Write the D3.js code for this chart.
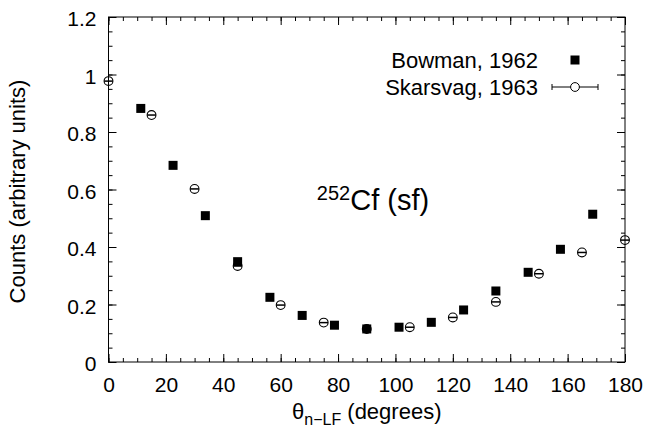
<!DOCTYPE html>
<html><head><meta charset="utf-8">
<script src="https://cdn.jsdelivr.net/npm/d3@7"></script>
<style>
body{margin:0;background:#fff;}
text{font-family:"Liberation Sans",Arial,sans-serif;fill:#000;}
.domain{display:none;}
</style></head>
<body><svg id="c" width="649" height="430"></svg>
<script>
// Data
const bowmanAngles = [11.25, 22.5, 33.75, 45, 56.25, 67.5, 78.75, 90, 101.25, 112.5, 123.75, 135, 146.25, 157.5, 168.75];
const bowmanCounts = [0.882, 0.684, 0.509, 0.349, 0.225, 0.162, 0.128, 0.115, 0.121, 0.138, 0.181, 0.247, 0.312, 0.392, 0.514];
const skarsvagAngles = [0, 15, 30, 45, 60, 75, 90, 105, 120, 135, 150, 165, 180];
const skarsvagCounts = [0.977, 0.859, 0.602, 0.334, 0.198, 0.137, 0.115, 0.121, 0.155, 0.209, 0.307, 0.381, 0.424];
const skarsvagErr = [1.5, 1.5, 1.5, 1.5, 1.5, 1.5, 1.5, 1.5, 1.5, 1.5, 1.5, 1.5, 1.5];
const xTicks = [0, 20, 40, 60, 80, 100, 120, 140, 160, 180];
const yTicks = [0, 0.2, 0.4, 0.6, 0.8, 1.0, 1.2];
const yTickLabels = ["0", "0.2", "0.4", "0.6", "0.8", "1", "1.2"];
const legendLabels = ["Bowman, 1962", "Skarsvag, 1963"];

const svg = d3.select("#c");
const L = 108.5, R = 625, T = 17, B = 362;
const x = d3.scaleLinear().domain([0, 180]).range([L, R]);
const y = d3.scaleLinear().domain([0, 1.2]).range([B, T]);

const xMinor = d3.range(0, 180.01, 5);
const yMinor = d3.range(0, 1.2001, 0.05);

function styleAxis(g){ g.selectAll("line").attr("stroke","#000").attr("stroke-width",1); g.select(".domain").remove(); }

// minor ticks
svg.append("g").attr("transform",`translate(0,${B})`).call(d3.axisBottom(x).tickValues(xMinor).tickSize(-4).tickFormat("")).call(styleAxis);
svg.append("g").attr("transform",`translate(0,${T})`).call(d3.axisTop(x).tickValues(xMinor).tickSize(-4).tickFormat("")).call(styleAxis);
svg.append("g").attr("transform",`translate(${L},0)`).call(d3.axisLeft(y).tickValues(yMinor).tickSize(-4).tickFormat("")).call(styleAxis);
svg.append("g").attr("transform",`translate(${R},0)`).call(d3.axisRight(y).tickValues(yMinor).tickSize(-4).tickFormat("")).call(styleAxis);

// major ticks
svg.append("g").attr("transform",`translate(0,${B})`)
  .call(d3.axisBottom(x).tickValues(xTicks).tickSize(-8).tickPadding(15).tickFormat(d3.format("d")))
  .call(styleAxis).selectAll("text").attr("font-size","21px").attr("font-family","Liberation Sans, Arial, sans-serif");
svg.append("g").attr("transform",`translate(0,${T})`).call(d3.axisTop(x).tickValues(xTicks).tickSize(-8).tickFormat("")).call(styleAxis);
svg.append("g").attr("transform",`translate(${L},0)`)
  .call(d3.axisLeft(y).tickValues(yTicks).tickSize(-8).tickPadding(12).tickFormat((d,i)=>yTickLabels[i]))
  .call(styleAxis).selectAll("text").attr("font-size","21px").attr("font-family","Liberation Sans, Arial, sans-serif").attr("dy","0.42em");
svg.append("g").attr("transform",`translate(${R},0)`).call(d3.axisRight(y).tickValues(yTicks).tickSize(-8).tickFormat("")).call(styleAxis);

// frame
svg.append("rect").attr("x",L).attr("y",T).attr("width",R-L).attr("height",B-T)
  .attr("fill","none").attr("stroke","#000").attr("stroke-width",1);

// Skarsvag error bars & circles
const sk = skarsvagAngles.map((a,i)=>({a, c:skarsvagCounts[i], e:skarsvagErr[i]}));
svg.append("g").selectAll("line").data(sk).join("line")
  .attr("x1",d=>x(d.a-d.e)).attr("x2",d=>x(d.a+d.e))
  .attr("y1",d=>y(d.c)).attr("y2",d=>y(d.c)).attr("stroke","#000").attr("stroke-width",1.5);
svg.append("g").selectAll("circle").data(sk).join("circle")
  .attr("cx",d=>x(d.a)).attr("cy",d=>y(d.c)).attr("r",4.4)
  .attr("fill","none").attr("stroke","#000").attr("stroke-width",1.1);

// Bowman squares
const bw = bowmanAngles.map((a,i)=>({a, c:bowmanCounts[i]}));
const S = 9;
svg.append("g").selectAll("rect").data(bw).join("rect")
  .attr("x",d=>x(d.a)-S/2).attr("y",d=>y(d.c)-S/2).attr("width",S).attr("height",S).attr("fill","#000");

// Legend
const lg = svg.append("g");
lg.append("text").attr("x",538).attr("y",60).attr("dy","0.35em").attr("text-anchor","end").attr("font-size","22px").text(legendLabels[0]);
lg.append("text").attr("x",538).attr("y",87).attr("dy","0.35em").attr("text-anchor","end").attr("font-size","22px").text(legendLabels[1]);
lg.append("rect").attr("x",575-4.5).attr("y",60-4.5).attr("width",9).attr("height",9).attr("fill","#000");
lg.append("line").attr("x1",552).attr("x2",598).attr("y1",87).attr("y2",87).attr("stroke","#000").attr("stroke-width",1);
lg.append("line").attr("x1",552).attr("x2",552).attr("y1",84).attr("y2",90).attr("stroke","#000");
lg.append("line").attr("x1",598).attr("x2",598).attr("y1",84).attr("y2",90).attr("stroke","#000");
lg.append("circle").attr("cx",575).attr("cy",87).attr("r",4.4).attr("fill","#fff").attr("stroke","#000").attr("stroke-width",1);

// Annotation
const ann = svg.append("text").attr("x",373).attr("y",210).attr("text-anchor","middle").attr("font-size","29px");
ann.append("tspan").attr("font-size","20px").attr("dy","-10").text("252");
ann.append("tspan").attr("dy","10").text("Cf (sf)");

// Axis titles
const xt = svg.append("text").attr("x",(L+R)/2).attr("y",419).attr("text-anchor","middle").attr("font-size","22px");
xt.append("tspan").text("θ");
xt.append("tspan").attr("font-size","16px").attr("dy","6").text("n−LF");
xt.append("tspan").attr("dy","-6").text(" (degrees)");

svg.append("text").attr("transform",`translate(25,${(T+B)/2 + 2}) rotate(-90)`).attr("text-anchor","middle")
  .attr("font-size","22px").text("Counts (arbitrary units)");
</script></body></html>
